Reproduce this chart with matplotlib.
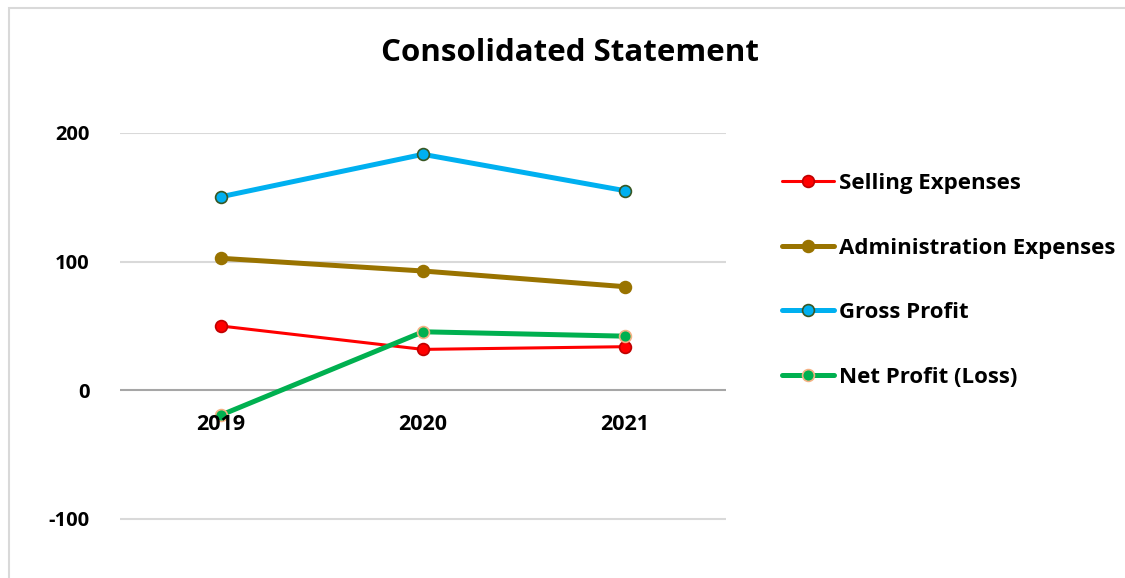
import matplotlib

matplotlib.use("Agg")
import matplotlib.pyplot as plt
from matplotlib.patches import Rectangle

years = ["2019", "2020", "2021"]
selling_expenses = [49.8, 31.6, 33.7]
administration_expenses = [102.5, 92.6, 80.4]
gross_profit = [150.4, 183.4, 155.1]
net_profit = [-19.5, 45.3, 41.9]
y_ticks = [-100, 0, 100, 200]

FONT = ["Open Sans", "DejaVu Sans"]
W, H = 1125, 578

fig = plt.figure(figsize=(W / 100, H / 100), dpi=100)
fig.patch.set_facecolor("white")

# chart frame (left and top edges visible in the crop)
fig.patches.append(Rectangle((9 / W, -0.1), 1.2, (H - 8) / H + 0.1, transform=fig.transFigure,
                             fill=False, edgecolor="#D9D9D9", lw=1.5))

# plot area: x 120..726 px, y 133 (200) .. 578 (bottom)
ax = fig.add_axes([120 / W, 0, (726 - 120) / W, (H - 133) / H])
ax.set_xlim(-0.5, 2.5)
ax.set_ylim(200 - (H - 133) / 1.285, 200)
ax.set_facecolor("none")
for s in ax.spines.values():
    s.set_visible(False)

for t in y_ticks:
    ax.axhline(t, color="#A6A6A6" if t == 0 else "#D9D9D9", lw=1.5, zorder=0)

x = range(len(years))
series = [
    ("Selling Expenses", selling_expenses, "#FF0000", "#FF0000", "#C00000", 2.2),
    ("Administration Expenses", administration_expenses, "#997300", "#997300", "#997300", 3.6),
    ("Gross Profit", gross_profit, "#00B0F0", "#00B0F0", "#385723", 3.6),
    ("Net Profit (Loss)", net_profit, "#00B050", "#00B050", "#F4B183", 3.6),
]
for label, vals, color, face, edge, lw in series:
    ax.plot(x, vals, color=color, lw=lw, marker="o", markersize=8.5,
            markerfacecolor=face, markeredgecolor=edge, markeredgewidth=1.2,
            label=label, zorder=3, solid_capstyle="round")

ax.set_yticks(y_ticks)
ax.set_yticklabels([str(t) for t in y_ticks], fontsize=14.5, fontweight="bold", family=FONT)
ax.tick_params(axis="y", length=0, pad=22)
ax.set_xticks([])
for i, yr in enumerate(years):
    ax.text(i, -27, yr, ha="center", va="center", fontsize=15.5, fontweight="bold", family=FONT)

fig.text(570 / W, 1 - 53 / H, "Consolidated Statement", ha="center", va="center",
         fontsize=22.5, fontweight="bold", family=FONT)

leg = fig.legend(loc="upper left", bbox_to_anchor=(762 / W, 1 - 153 / H), frameon=False,
                 handlelength=2.35, handletextpad=0.2, labelspacing=1.96,
                 prop={"family": FONT, "weight": "bold", "size": 16})

fig.savefig("out.png", dpi=100, facecolor="white")
